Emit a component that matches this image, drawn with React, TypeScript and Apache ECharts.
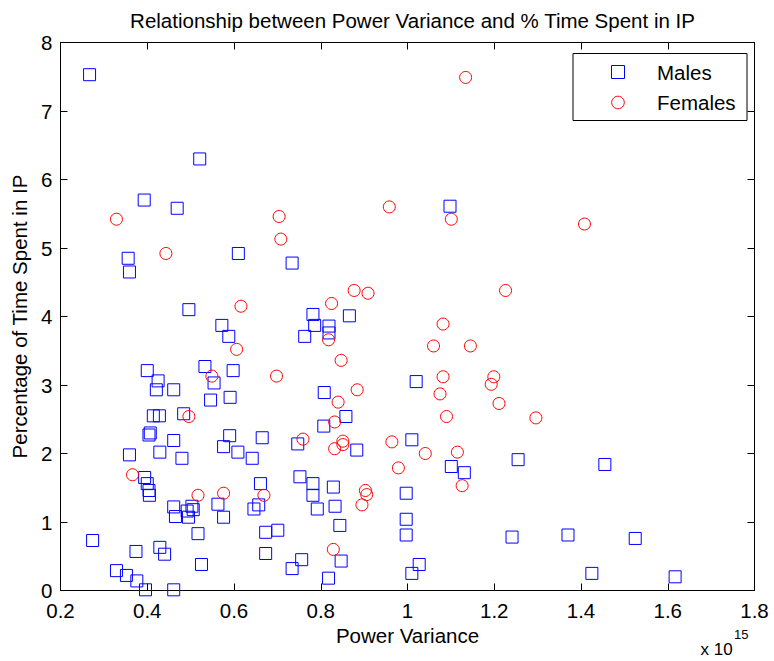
import React, { useEffect, useRef } from "react";
import * as echarts from "echarts";

const TITLE = "Relationship between Power Variance and % Time Spent in IP";
const X_NAME = "Power Variance";
const Y_NAME = "Percentage of Time Spent in IP";
const LEGEND_NAMES = ["Males", "Females"];

const X_MIN = 0.2;
const X_MAX = 1.8;
const X_STEP = 0.2;
const Y_MIN = 0;
const Y_MAX = 8;
const Y_STEP = 1;

// Power variance (x 10^15) and % time in IP
const malesX = [
  0.267, 0.393, 0.469, 0.521, 0.356, 0.359, 0.61, 0.734, 0.496, 0.572,
  0.588, 0.763, 0.4, 0.533, 0.598, 0.425, 0.421, 0.461, 0.554, 0.546,
  0.591, 0.414, 0.428, 0.484, 0.404, 0.407, 0.461, 0.429, 0.359, 0.48,
  0.576, 0.59, 0.609, 0.665, 0.642, 0.394, 0.4, 0.404, 0.405, 0.661,
  0.657, 0.646, 0.563, 0.576, 0.461, 0.465, 0.492, 0.503, 0.506, 0.495,
  0.517, 0.673, 0.701, 0.274, 0.374, 0.429, 0.44, 0.673, 0.525, 0.329,
  0.352, 0.376, 0.396, 0.461, 0.734, 0.756, 0.782, 0.866, 0.786, 0.819,
  0.819, 1.02, 0.808, 0.858, 0.807, 0.747, 0.883, 1.01, 1.101, 1.131,
  1.255, 0.752, 0.782, 0.782, 0.829, 0.833, 0.792, 0.997, 0.997, 0.997,
  0.844, 0.847, 0.818, 1.027, 1.01, 1.241, 1.098, 1.455, 1.37, 1.525,
  1.425, 1.617,
];
const malesY = [
  7.53, 5.7, 5.58, 6.3, 4.85, 4.65, 4.92, 4.78, 4.1, 3.87,
  3.71, 3.71, 3.21, 3.27, 3.21, 3.06, 2.93, 2.93, 3.03, 2.78,
  2.82, 2.55, 2.55, 2.58, 2.27, 2.3, 2.19, 2.02, 1.98, 1.93,
  2.1, 2.26, 2.02, 2.23, 1.93, 1.65, 1.56, 1.46, 1.39, 1.56,
  1.25, 1.19, 1.26, 1.07, 1.22, 1.08, 1.16, 1.23, 1.18, 1.07,
  0.83, 0.85, 0.88, 0.73, 0.57, 0.63, 0.53, 0.54, 0.38, 0.29,
  0.22, 0.14, 0.01, 0.01, 0.32, 0.45, 4.03, 4.01, 3.87, 3.86,
  3.76, 3.05, 2.89, 2.54, 2.4, 2.14, 2.05, 2.2, 1.81, 1.72,
  1.91, 1.66, 1.56, 1.39, 1.51, 1.23, 1.19, 1.42, 1.04, 0.81,
  0.95, 0.43, 0.18, 0.38, 0.25, 0.78, 5.61, 1.84, 0.81, 0.76,
  0.25, 0.2,
];
const femalesX = [
  0.329, 0.704, 0.708, 0.443, 0.616, 0.606, 0.549, 0.698, 0.496, 0.366,
  0.517, 0.576, 0.669, 1.134, 0.958, 1.101, 1.226, 0.877, 0.909, 0.825,
  0.818, 1.082, 1.06, 1.145, 0.847, 1.082, 1.199, 1.193, 1.075, 1.211,
  0.884, 0.84, 0.832, 1.09, 0.759, 0.851, 0.851, 0.832, 0.964, 1.041,
  1.115, 0.979, 1.126, 0.903, 0.906, 0.895, 0.829, 1.408, 1.296,
];
const femalesY = [
  5.42, 5.46, 5.13, 4.92, 4.15, 3.52, 3.13, 3.13, 2.54, 1.69,
  1.39, 1.42, 1.39, 7.49, 5.6, 5.42, 4.38, 4.38, 4.34, 4.19,
  3.66, 3.89, 3.57, 3.57, 3.36, 3.12, 3.12, 3.01, 2.87, 2.73,
  2.93, 2.75, 2.46, 2.54, 2.21, 2.18, 2.13, 2.07, 2.17, 2.0,
  2.02, 1.79, 1.53, 1.46, 1.4, 1.25, 0.6, 5.35, 2.52,
];

const FONT = "'Liberation Sans', Arial, Helvetica, sans-serif";
const FS = 20.5;

function zip(xs: number[], ys: number[]) {
  return xs.map((x, i) => [x, ys[i]]);
}

export default function App() {
  const ref = useRef<HTMLDivElement>(null);

  useEffect(() => {
    document.body.style.margin = "0";
    if (!ref.current) return;
    const chart = echarts.init(ref.current, null, { renderer: "svg" });

    const grid = { left: 60.5, top: 42.5, width: 694, height: 548 };
    const tickInside = { show: true, inside: true, length: 7, lineStyle: { color: "#000", width: 1 } };
    const axisLine = { show: true, onZero: false, lineStyle: { color: "#000", width: 1 } };
    const labelStyle = { color: "#000", fontFamily: FONT, fontSize: FS };

    chart.setOption({
      animation: false,
      backgroundColor: "#fff",
      title: {
        text: TITLE,
        left: 407.5,
        top: 5,
        textAlign: "center",
        textStyle: { color: "#000", fontFamily: FONT, fontSize: FS, fontWeight: "normal" },
      },
      grid,
      xAxis: [
        {
          type: "value",
          min: X_MIN,
          max: X_MAX,
          interval: X_STEP,
          name: X_NAME,
          nameLocation: "middle",
          nameGap: 34,
          nameTextStyle: { color: "#000", fontFamily: FONT, fontSize: FS },
          axisLine,
          axisTick: tickInside,
          splitLine: { show: false },
          axisLabel: { ...labelStyle, margin: 9, formatter: (v: number) => String(Math.round(v * 10) / 10) },
        },
        {
          type: "value",
          position: "top",
          min: X_MIN,
          max: X_MAX,
          interval: X_STEP,
          axisLine,
          axisTick: tickInside,
          splitLine: { show: false },
          axisLabel: { show: false },
        },
      ],
      yAxis: [
        {
          type: "value",
          min: Y_MIN,
          max: Y_MAX,
          interval: Y_STEP,
          name: Y_NAME,
          nameLocation: "middle",
          nameGap: 31,
          nameTextStyle: { color: "#000", fontFamily: FONT, fontSize: FS },
          axisLine,
          axisTick: tickInside,
          splitLine: { show: false },
          axisLabel: { ...labelStyle, margin: 8 },
        },
        {
          type: "value",
          position: "right",
          min: Y_MIN,
          max: Y_MAX,
          interval: Y_STEP,
          axisLine,
          axisTick: tickInside,
          splitLine: { show: false },
          axisLabel: { show: false },
        },
      ],
      series: [
        {
          name: LEGEND_NAMES[0],
          type: "scatter",
          symbol: "rect",
          symbolSize: 12,
          clip: false,
          itemStyle: { color: "none", borderColor: "#0000ff", borderWidth: 1, opacity: 1 },
          emphasis: { disabled: true },
          data: zip(malesX, malesY),
        },
        {
          name: LEGEND_NAMES[1],
          type: "scatter",
          symbol: "circle",
          symbolSize: 12,
          clip: false,
          itemStyle: { color: "none", borderColor: "#ff0000", borderWidth: 1, opacity: 1 },
          emphasis: { disabled: true },
          data: zip(femalesX, femalesY),
        },
      ],
      graphic: [
        {
          type: "group",
          z: 100,
          children: [
            {
              type: "rect",
              shape: { x: 573, y: 53.5, width: 174, height: 67 },
              style: { fill: "#fff", stroke: "#000", lineWidth: 1 },
            },
            {
              type: "rect",
              shape: { x: 611.5, y: 65.5, width: 13, height: 13 },
              style: { fill: "none", stroke: "#0000ff", lineWidth: 1 },
            },
            {
              type: "circle",
              shape: { cx: 618, cy: 102.5, r: 6.3 },
              style: { fill: "none", stroke: "#ff0000", lineWidth: 1 },
            },
            {
              type: "text",
              x: 657,
              y: 72,
              style: { text: LEGEND_NAMES[0], font: `${FS}px ${FONT}`, fill: "#000", textVerticalAlign: "middle" },
            },
            {
              type: "text",
              x: 657,
              y: 102.5,
              style: { text: LEGEND_NAMES[1], font: `${FS}px ${FONT}`, fill: "#000", textVerticalAlign: "middle" },
            },
          ],
        },
        {
          type: "text",
          x: 700.5,
          y: 649,
          style: { text: "x 10", font: `17px ${FONT}`, fill: "#000", textVerticalAlign: "middle" },
        },
        {
          type: "text",
          x: 734,
          y: 634,
          style: { text: "15", font: `13px ${FONT}`, fill: "#000", textVerticalAlign: "middle" },
        },
      ],
    });

    return () => chart.dispose();
  }, []);

  return <div ref={ref} style={{ width: 774, height: 661, background: "#fff" }} />;
}
